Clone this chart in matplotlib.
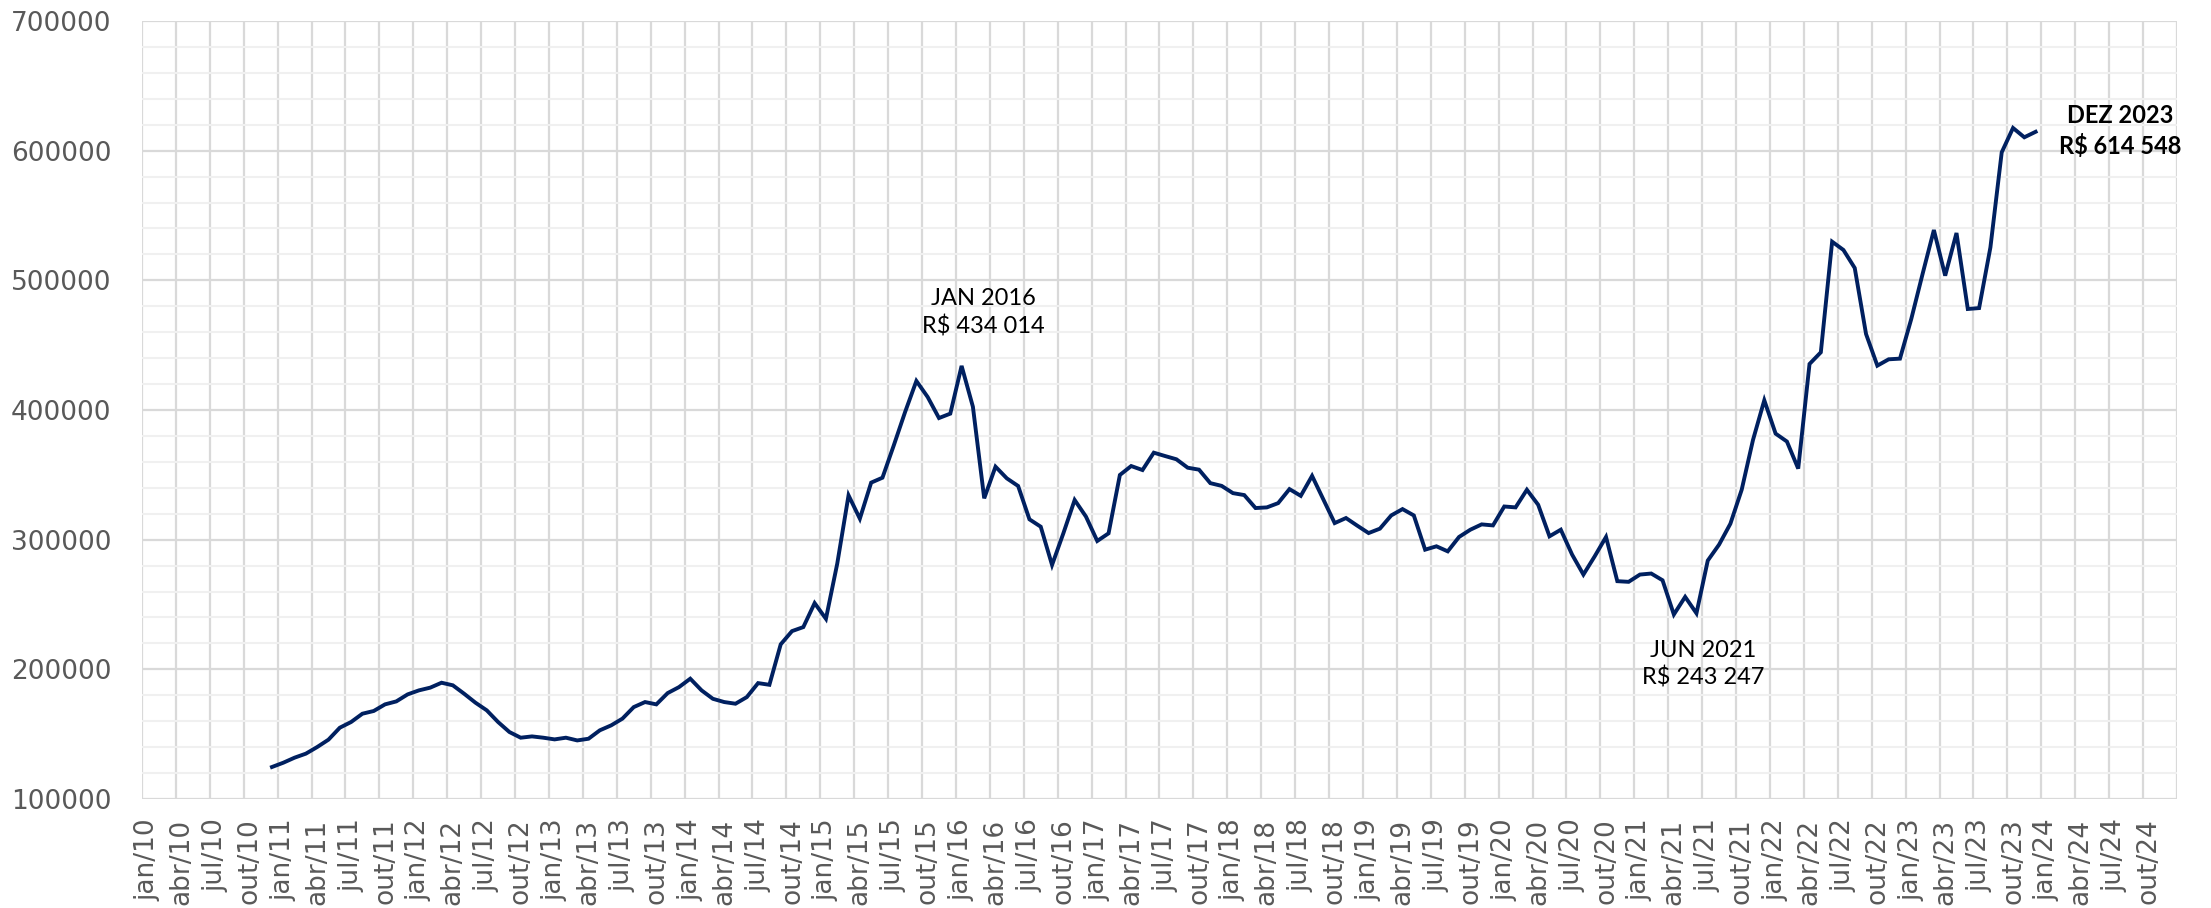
import matplotlib.pyplot as plt
import numpy as np
from matplotlib.ticker import MultipleLocator, FixedLocator

# eixo mensal: jan/10 .. dez/24 (180 meses), dados de dez/10 a dez/23
meses = ['jan', 'abr', 'jul', 'out']
anos = list(range(10, 25))
rotulos = [f'{m}/{a:02d}' for a in anos for m in meses]

inicio = 11  # dez/10
valores = [
    124700, 128000, 131900, 135000, 140100, 145800, 155000, 159400, 165800, 167900,
    173000, 175300, 180700, 183800, 185900, 189700, 187700, 181200, 174300, 168400,
    159400, 151700, 147300, 148300, 147300, 146000, 147300, 145200, 146500, 153000,
    156800, 162000, 170900, 174800, 173000, 181700, 186300, 192800, 183800, 177300,
    174800, 173500, 178600, 189400, 188100, 219300, 229500, 232600, 251100, 239000,
    281500, 334200, 316200, 344000, 347800, 372700, 398400, 422400, 410000, 393800,
    397200, 434014, 402500, 331900, 356300, 347300, 341400, 315700, 310000, 280500,
    304900, 330600, 317800, 299000, 304900, 349900, 356800, 353700, 367100, 364500,
    362000, 355500, 354000, 343600, 341500, 335900, 334400, 324400, 324900, 328200,
    339000, 333800, 349200, 331000, 312800, 316700, 310800, 305100, 308500, 318700,
    323600, 318700, 292300, 294900, 291000, 302100, 307700, 311800, 311000, 325600,
    324900, 338500, 326900, 302600, 307700, 288500, 273100, 287200, 302100, 268000,
    267500, 273100, 273900, 268700, 242300, 255900, 243247, 283900, 296200, 312300,
    338500, 376900, 407500, 381800, 375700, 354800, 435500, 444500, 529800, 523400,
    509500, 458600, 434200, 439100, 439600, 470200, 504900, 538800, 503600, 536500,
    477900, 478600, 525400, 598700, 617500, 610300, 614548,
]

notas = [
    ('JAN 2016\nR$ 434 014', 74.4, 475000, 'normal'),
    ('JUN 2021\nR$ 243 247', 138.1, 204000, 'normal'),
    ('DEZ 2023\nR$ 614 548', 175.0, 615000, 'bold'),
]

fig = plt.figure(figsize=(22.11, 9.08), dpi=100)
ax = fig.add_axes([0.0642, 0.12, 0.9204, 0.8569])

x = np.arange(inicio, inicio + len(valores)) + 0.5
ax.plot(x, valores, color='#002060', linewidth=2.8, solid_joinstyle='miter')

ax.set_xlim(0, 180)
ax.set_ylim(100000, 700000)

ax.xaxis.set_major_locator(MultipleLocator(3))
ax.xaxis.set_minor_locator(FixedLocator(np.arange(0, 180, 3) + 0.5))
ax.set_xticklabels([], minor=False)
ax.set_xticklabels(rotulos, minor=True, rotation=90)
ax.yaxis.set_major_locator(MultipleLocator(100000))
ax.yaxis.set_minor_locator(MultipleLocator(20000))

ax.grid(True, which='major', axis='x', color='#d9d9d9', linewidth=1.6)
ax.grid(True, which='major', axis='y', color='#d9d9d9', linewidth=1.6)
ax.grid(True, which='minor', axis='y', color='#f0f0f0', linewidth=1.5)
ax.set_axisbelow(True)

ax.tick_params(axis='both', which='both', length=0, labelsize=19, labelcolor='#595959')
ax.tick_params(axis='x', which='minor', pad=14)
ax.tick_params(axis='y', which='major', pad=22)
for s in ax.spines.values():
    s.set_visible(False)

for texto, xm, ym, peso in notas:
    ax.text(xm, ym, texto, ha='center', va='center', fontsize=17,
            fontweight=peso, family='Lato', linespacing=1.35, color='black')

fig.savefig('out.png', dpi=100)
